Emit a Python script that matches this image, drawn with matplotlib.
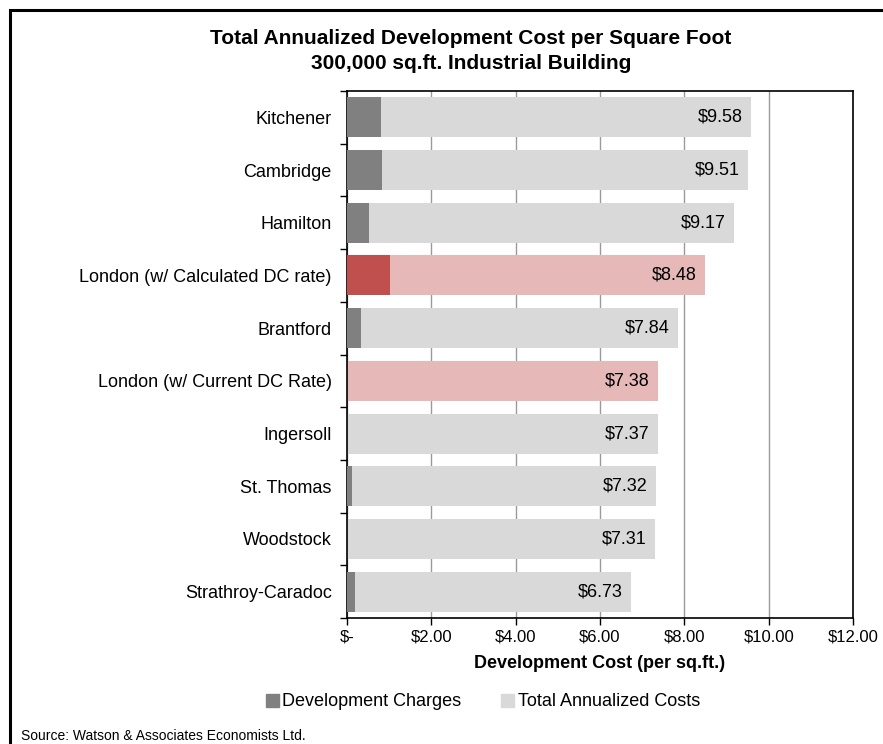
import matplotlib.pyplot as plt
import matplotlib.patches as mpatches
from matplotlib.ticker import FixedLocator, FuncFormatter

plt.rcParams['font.family'] = ['Liberation Sans', 'DejaVu Sans']

cities = ["Kitchener", "Cambridge", "Hamilton", "London (w/ Calculated DC rate)",
          "Brantford", "London (w/ Current DC Rate)", "Ingersoll", "St. Thomas",
          "Woodstock", "Strathroy-Caradoc"]
total_cost = [9.58, 9.51, 9.17, 8.48, 7.84, 7.38, 7.37, 7.32, 7.31, 6.73]
dev_charges = [0.81, 0.82, 0.53, 1.03, 0.34, 0.0, 0.0, 0.13, 0.0, 0.19]
highlight = [False, False, False, True, False, True, False, False, False, False]

fig = plt.figure(figsize=(8.83, 7.44), dpi=100)
ax = fig.add_axes([347 / 883, 1 - 618 / 744, 506 / 883, 527 / 744])

y = list(range(len(cities)))
tot_colors = ["#e6b9b8" if h else "#d9d9d9" for h in highlight]
dev_colors = ["#c0504d" if h else "#808080" for h in highlight]

ax.barh(y, total_cost, height=0.76, color=tot_colors, zorder=2)
ax.barh(y, dev_charges, height=0.76, color=dev_colors, zorder=3)

for yi, v in zip(y, total_cost):
    ax.annotate(f"${v:.2f}", (v, yi), xytext=(-6, 0), textcoords="offset points",
                ha="right", va="center", fontsize=13, zorder=4)

ax.set_xlim(0, 12)
ax.set_ylim(len(cities) - 0.5, -0.5)
ax.set_xticks([0, 2, 4, 6, 8, 10, 12])
ax.xaxis.set_major_formatter(FuncFormatter(lambda v, p: "$-" if v == 0 else f"${v:.2f}"))
ax.tick_params(axis="x", labelsize=12, length=5, width=1, pad=3, color="black")
ax.set_yticks(y)
ax.set_yticklabels(cities, fontsize=13)
ax.tick_params(axis="y", which="major", length=0, pad=11)
ax.yaxis.set_minor_locator(FixedLocator([i + 0.5 for i in range(-1, len(cities))]))
ax.tick_params(axis="y", which="minor", length=5, width=1)
ax.grid(axis="x", color="#9a9a9a", linewidth=1, zorder=0)
ax.set_axisbelow(True)
for s in ax.spines.values():
    s.set_linewidth(1.2)
ax.set_xlabel("Development Cost (per sq.ft.)", fontsize=13, fontweight="bold", labelpad=8)

fig.text(471 / 883, 1 - 51 / 744, "Total Annualized Development Cost per Square Foot\n300,000 sq.ft. Industrial Building",
         ha="center", va="center", fontsize=15, fontweight="bold", linespacing=1.35)

handles = [mpatches.Patch(color="#808080", label="Development Charges"),
           mpatches.Patch(color="#d9d9d9", label="Total Annualized Costs")]
fig.legend(handles=handles, loc="center", bbox_to_anchor=(483 / 883, 1 - 702 / 744),
           ncol=2, frameon=False, fontsize=13, handlelength=0.7, handleheight=0.7,
           handletextpad=0.2, columnspacing=2.2)

fig.text(21 / 883, 1 - 736 / 744, "Source: Watson & Associates Economists Ltd.",
         ha="left", va="center", fontsize=10)

fig.patches.append(mpatches.Rectangle((10 / 883, -0.1), 1.2, 1 - 10 / 744 + 0.1,
                                      transform=fig.transFigure, fill=False,
                                      edgecolor="black", linewidth=2.2, clip_on=False))

fig.savefig("out.png", dpi=100)
